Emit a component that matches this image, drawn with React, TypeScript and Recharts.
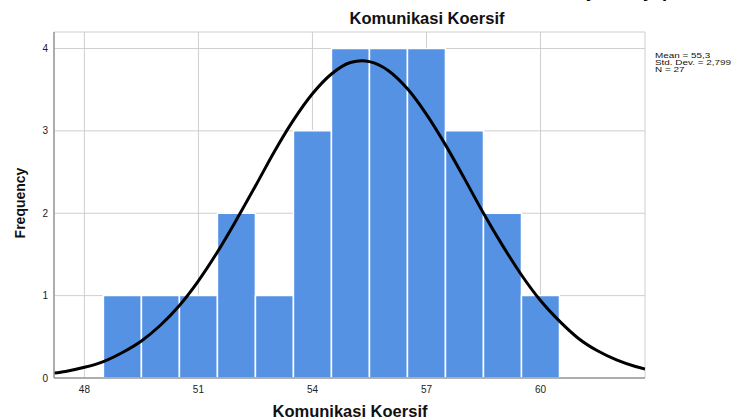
import React from 'react';
import { ComposedChart, Bar, Line, XAxis, YAxis, CartesianGrid } from 'recharts';

// Histogram bins (value midpoints) and frequencies
const binValues = [49, 50, 51, 52, 53, 54, 55, 56, 57, 58, 59, 60];
const frequencies = [1, 1, 1, 2, 1, 3, 4, 4, 4, 3, 2, 1];

// Normal curve (x position, height in frequency units)
const curveX = [47.2, 47.5, 48, 48.5, 49, 49.5, 50, 50.5, 51, 51.5, 52, 52.5, 53, 53.5, 54, 54.5, 55, 55.3, 55.5, 56, 56.5, 57, 57.5, 58, 58.5, 59, 59.5, 60, 60.5, 61, 61.5, 62, 62.5, 62.75];
const curveY = [0.06, 0.08, 0.13, 0.2, 0.31, 0.45, 0.64, 0.88, 1.18, 1.53, 1.92, 2.33, 2.75, 3.13, 3.45, 3.69, 3.83, 3.85, 3.84, 3.73, 3.51, 3.2, 2.83, 2.42, 2.0, 1.61, 1.25, 0.94, 0.69, 0.48, 0.33, 0.22, 0.14, 0.11];

const xDomain = [47.2, 62.75];
const xTicks = [48, 51, 54, 57, 60];
const yTicks = [0, 1, 2, 3, 4];

const title = 'Komunikasi Koersif';
const xLabel = 'Komunikasi Koersif';
const yLabel = 'Frequency';
const statLines = ['Mean = 55,3', 'Std. Dev. = 2,799', 'N = 27'];

const barData = binValues.map((v, i) => ({ x: v, count: frequencies[i] }));
const curveData = curveX.map((v, i) => ({ x: v, curve: curveY[i] }));

const FONT = '"Liberation Sans", Arial, sans-serif';

export default function App() {
  return (
    <div style={{ position: 'absolute', left: 0, top: 0, width: 737, height: 418, background: '#fff' }}>
      <ComposedChart
        width={737}
        height={418}
        data={barData}
        barCategoryGap={0}
        margin={{ top: 32, right: 92, bottom: 20, left: 24 }}
        style={{ fontFamily: FONT }}
      >
        <CartesianGrid stroke="#cfcfcf" strokeWidth={1} />
        <XAxis
          dataKey="x"
          type="number"
          domain={xDomain}
          allowDataOverflow
          ticks={xTicks}
          tickLine={false}
          height={20}
          axisLine={{ stroke: '#9a9a9a', strokeWidth: 1.5 }}
          tick={{ fill: '#222', fontSize: 10, fontFamily: FONT }}
        />
        <XAxis
          xAxisId="curve"
          dataKey="x"
          type="number"
          domain={xDomain}
          allowDataOverflow
          hide
        />
        <YAxis
          type="number"
          domain={[0, 4.2]}
          ticks={yTicks}
          tickLine={false}
          tickMargin={0}
          width={30}
          axisLine={{ stroke: '#9a9a9a', strokeWidth: 1.5 }}
          tick={{ fill: '#222', fontSize: 10, fontFamily: FONT }}
        />
        <Bar
          dataKey="count"
          fill="#5592e4"
          stroke="#ffffff"
          strokeWidth={1.5}
          isAnimationActive={false}
        />
        <Line
          xAxisId="curve"
          data={curveData}
          dataKey="curve"
          type="monotone"
          stroke="#000"
          strokeWidth={3}
          dot={false}
          activeDot={false}
          isAnimationActive={false}
        />
      </ComposedChart>
      <svg
        width={737}
        height={418}
        style={{ position: 'absolute', left: 0, top: 0, pointerEvents: 'none', fontFamily: FONT }}
      >
        <text x={586} y={-3.5} fontSize={18} fontWeight="bold" fill="#000">y</text>
        <text x={643} y={-3.5} fontSize={18} fontWeight="bold" fill="#000">y</text>
        <text x={662} y={-3.5} fontSize={18} fontWeight="bold" fill="#000">p</text>
        <text x={719} y={-3.5} fontSize={18} fontWeight="bold" fill="#000">_</text>
        <text x={427} y={24} fontSize={16.5} fontWeight="bold" textAnchor="middle" fill="#111">{title}</text>
        <text x={350} y={417} fontSize={16.5} fontWeight="bold" textAnchor="middle" fill="#111">{xLabel}</text>
        <text
          transform="translate(25,203) rotate(-90)"
          fontSize={14}
          fontWeight="bold"
          textAnchor="middle"
          fill="#111"
        >
          {yLabel}
        </text>
        {statLines.map((s, i) => (
          <text
            key={s}
            transform={`translate(655,${58.3 + i * 6.8}) scale(1.1,0.78)`}
            fontSize={9}
            fill="#111"
          >
            {s}
          </text>
        ))}
      </svg>
    </div>
  );
}
